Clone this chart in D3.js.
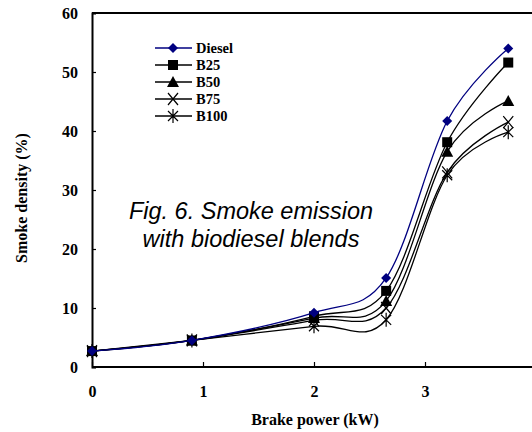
<!DOCTYPE html>
<html>
<head>
<meta charset="utf-8">
<script src="https://cdn.jsdelivr.net/npm/d3@7"></script>
<style>
  body { margin: 0; background: #fff; }
  svg { display: block; }
</style>
</head>
<body>
<svg id="chart" width="532" height="432"></svg>
<script>
// データ
const power = [0, 0.9, 2, 2.65, 3.2, 3.75];
const diesel = [2.7, 4.5, 9.2, 15.1, 41.7, 54.0];
const b25 = [2.7, 4.5, 8.6, 12.9, 38.1, 51.6];
const b50 = [2.7, 4.5, 8.3, 11.2, 36.5, 45.1];
const b75 = [2.7, 4.5, 7.9, 10.0, 33.0, 41.5];
const b100 = [2.7, 4.5, 6.9, 8.0, 32.5, 39.8];
const seriesNames = ["Diesel", "B25", "B50", "B75", "B100"];
const xTicks = [0, 1, 2, 3];
const yTicks = [0, 10, 20, 30, 40, 50, 60];

const series = [
  { name: "Diesel", values: diesel, color: "#000080", marker: "diamond" },
  { name: "B25", values: b25, color: "#000", marker: "square" },
  { name: "B50", values: b50, color: "#000", marker: "triangle" },
  { name: "B75", values: b75, color: "#000", marker: "cross" },
  { name: "B100", values: b100, color: "#000", marker: "star" }
];

const svg = d3.select("#chart");
const margin = { left: 92, top: 13, bottom: 367 };

const x = d3.scaleLinear().domain([0, 4]).range([margin.left, margin.left + 444]);
const y = d3.scaleLinear().domain([0, 60]).range([margin.bottom, margin.top]);

const serif = "'Liberation Serif', 'Times New Roman', serif";

// 枠 (上側)
svg.append("line")
  .attr("x1", x(0)).attr("x2", 532)
  .attr("y1", y(60)).attr("y2", y(60))
  .attr("stroke", "#000").attr("stroke-width", 2);

// 軸
const xAxis = svg.append("g")
  .attr("transform", `translate(0,${y(0)})`)
  .call(d3.axisBottom(x).tickValues(xTicks).tickSize(-5).tickPadding(19).tickFormat(d3.format("d")));
const yAxis = svg.append("g")
  .attr("transform", `translate(${x(0)},0)`)
  .call(d3.axisLeft(y).tickValues(yTicks).tickSize(-4).tickPadding(14).tickFormat(d3.format("d")));

[xAxis, yAxis].forEach(g => {
  g.select(".domain").attr("stroke-width", 2);
  g.selectAll(".tick line").attr("stroke-width", 1.2);
  g.selectAll("text")
    .attr("font-family", serif)
    .attr("font-weight", "bold")
    .attr("font-size", 16)
    .attr("fill", "#000");
});
xAxis.select(".domain").attr("d", `M${x(0)},0H532`);

// 軸タイトル
svg.append("text")
  .attr("x", 315).attr("y", 425)
  .attr("text-anchor", "middle")
  .attr("font-family", serif).attr("font-weight", "bold").attr("font-size", 16)
  .text("Brake power (kW)");
svg.append("text")
  .attr("transform", "translate(27,198) rotate(-90)")
  .attr("text-anchor", "middle")
  .attr("font-family", serif).attr("font-weight", "bold").attr("font-size", 16)
  .text("Smoke density (%)");

// 折れ線 (Excel の平滑線に近い形)
const lineFunc = d3.line()
  .x((d, i) => x(power[i]))
  .y(d => y(d))
  .curve(d3.curveCatmullRom.alpha(0));

// マーカーを描画する
function drawMarker(g, type, cx, cy, color) {
  if (type === "diamond") {
    g.append("path").attr("d", `M${cx},${cy - 5}L${cx + 5},${cy}L${cx},${cy + 5}L${cx - 5},${cy}Z`).attr("fill", color);
  } else if (type === "square") {
    g.append("rect").attr("x", cx - 5).attr("y", cy - 5).attr("width", 10).attr("height", 10).attr("fill", color);
  } else if (type === "triangle") {
    g.append("path").attr("d", `M${cx},${cy - 6}L${cx + 6},${cy + 5}L${cx - 6},${cy + 5}Z`).attr("fill", color);
  } else if (type === "cross") {
    g.append("path").attr("d", `M${cx - 5},${cy - 6}L${cx + 5},${cy + 6}M${cx + 5},${cy - 6}L${cx - 5},${cy + 6}`)
      .attr("stroke", color).attr("stroke-width", 1.2).attr("fill", "none");
  } else if (type === "star") {
    g.append("path").attr("d", `M${cx - 5},${cy - 5}L${cx + 5},${cy + 5}M${cx + 5},${cy - 5}L${cx - 5},${cy + 5}M${cx},${cy - 7}L${cx},${cy + 7}`)
      .attr("stroke", color).attr("stroke-width", 1.2).attr("fill", "none");
  }
}

series.slice().reverse().forEach(s => {
  svg.append("path")
    .datum(s.values)
    .attr("d", lineFunc)
    .attr("fill", "none")
    .attr("stroke", s.color)
    .attr("stroke-width", 1.3);
  const g = svg.append("g");
  s.values.forEach((v, i) => drawMarker(g, s.marker, x(power[i]), y(v), s.color));
});

// 凡例
const legend = svg.append("g");
series.forEach((s, i) => {
  const ly = 48 + i * 17;
  legend.append("line")
    .attr("x1", 155).attr("x2", 192).attr("y1", ly).attr("y2", ly)
    .attr("stroke", s.color).attr("stroke-width", 1.3);
  drawMarker(legend, s.marker, 173, ly, s.color);
  legend.append("text")
    .attr("x", 196).attr("y", ly + 5)
    .attr("font-family", serif).attr("font-weight", "bold").attr("font-size", 14.5)
    .attr("textLength", null)
    .text(seriesNames[i]);
});

// 図のキャプション
const caption = svg.append("text")
  .attr("text-anchor", "middle")
  .attr("font-family", "'Liberation Sans', Arial, sans-serif")
  .attr("font-style", "italic")
  .attr("font-size", 23.5);
caption.append("tspan").attr("x", 251).attr("y", 219).text("Fig. 6. Smoke emission");
caption.append("tspan").attr("x", 251).attr("y", 247).text("with biodiesel blends");
</script>
</body>
</html>
